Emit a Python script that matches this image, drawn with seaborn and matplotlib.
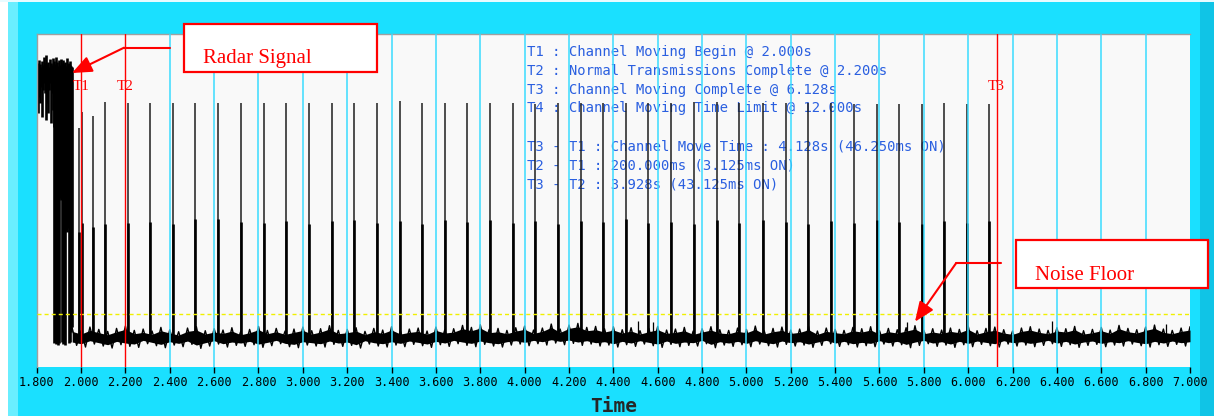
import numpy as np
import matplotlib
matplotlib.use("Agg")
import matplotlib.pyplot as plt
import seaborn as sns
from matplotlib.patches import Rectangle, FancyArrowPatch
from matplotlib.lines import Line2D

# ---------------- data ----------------
ticks = [1.8, 2.0, 2.2, 2.4, 2.6, 2.8, 3.0, 3.2, 3.4, 3.6, 3.8, 4.0, 4.2, 4.4,
         4.6, 4.8, 5.0, 5.2, 5.4, 5.6, 5.8, 6.0, 6.2, 6.4, 6.6, 6.8, 7.0]
tick_labels = ["%.3f" % t for t in ticks]

markers = ["T1", "T2", "T3"]
marker_t = [2.000, 2.200, 6.128]

threshold = 15.7      # yellow dashed level
noise_center = 8.6

# radar burst, sampled every 4 ms from 1.800 s
radar_t = np.round(1.800 + 0.004 * np.arange(41), 3)
radar_top = [90.5, 91.2, 90.1, 92.0, 90.8, 89.9, 91.6, 90.4, 92.8, 91.0,
             90.2, 93.4, 90.9, 91.5, 90.0, 92.3, 91.1, 90.6, 92.6, 90.3,
             91.8, 90.7, 93.0, 91.3, 90.1, 91.9, 90.5, 92.4, 91.0, 90.4,
             92.1, 90.8, 91.4, 90.2, 92.7, 90.9, 91.2, 90.5, 91.7, 90.3, 90.0]
radar_bot = [83.0, 76.0, 84.0, 81.0, 79.0, 84.0, 75.0, 83.0, 85.0, 82.0,
             74.0, 84.0, 79.0, 76.0, 83.0, 85.0, 73.0, 82.0, 77.0, 72.0,
             7.0, 7.5, 6.8, 7.2, 6.5, 7.0, 50.6, 50.0, 51.0, 7.3,
             6.9, 7.1, 6.6, 41.0, 40.5, 41.5, 7.0, 7.4, 11.0, 10.5, 12.0]

# transmission pulses
pulse_t = [1.992, 2.005, 2.053,
           2.108, 2.210, 2.312, 2.413, 2.515, 2.617, 2.721, 2.823, 2.924, 3.028,
           3.130, 3.231, 3.333, 3.438, 3.537, 3.641, 3.741, 3.844, 3.946, 4.047,
           4.151, 4.253, 4.353, 4.457, 4.557, 4.660, 4.763, 4.866, 4.966, 5.073,
           5.177, 5.276, 5.381, 5.484, 5.587, 5.688, 5.790, 5.891, 5.994, 6.095]
pulse_top = [71.6, 76.5, 75.3,
             79.3, 79.0, 79.0, 79.1, 79.0, 79.1, 79.0, 79.0, 79.1, 79.0,
             79.0, 79.0, 79.0, 79.6, 79.0, 79.2, 79.2, 79.2, 79.2, 78.9,
             79.0, 79.0, 79.0, 79.1, 79.2, 79.0, 79.4, 79.3, 79.0, 79.1,
             79.0, 79.2, 79.0, 78.8, 78.8, 78.9, 78.8, 79.2, 78.9, 78.8]
pulse_body = [40.5, 43.0, 42.0,
              42.7, 43.2, 43.4, 42.7, 44.4, 44.4, 43.5, 43.0, 43.8, 42.9,
              43.6, 44.0, 43.1, 43.7, 42.8, 43.9, 43.3, 44.1, 43.0, 43.6,
              42.9, 43.8, 43.4, 44.2, 43.1, 43.5, 42.8, 43.9, 43.2, 44.0,
              43.3, 42.9, 43.7, 43.1, 44.1, 43.4, 42.8, 43.6, 43.0, 43.8]

# noise floor envelope, sampled every 40 ms from 1.96 s
noise_t = np.round(1.96 + 0.04 * np.arange(127), 2)
noise_hi = [11.6, 10.8, 11.9, 11.2, 10.6, 11.5, 12.2, 10.9, 11.3, 10.7,
            11.8, 11.1, 10.5, 11.6, 12.0, 10.8, 11.4, 11.0, 11.7, 10.6,
            11.2, 12.1, 10.9, 11.5, 10.7, 11.3, 11.9, 10.8, 11.4, 12.3,
            10.9, 11.2, 11.7, 10.6, 11.5, 11.0, 12.0, 10.8, 11.3, 11.6,
            10.7, 11.9, 11.1, 11.4, 12.4, 11.8, 12.6, 11.2, 11.5, 10.9,
            11.7, 12.2, 11.0, 11.6, 12.8, 11.3, 12.5, 13.0, 11.8, 12.1,
            11.4, 12.0, 11.1, 11.7, 10.8, 11.5, 12.1, 11.0, 11.3, 11.8,
            10.7, 11.4, 12.0, 11.1, 10.9, 11.6, 11.2, 12.2, 10.8, 11.5,
            11.9, 11.0, 11.3, 12.1, 10.7, 11.6, 11.2, 10.9, 11.8, 11.4,
            12.0, 10.8, 11.5, 11.1, 11.7, 12.3, 10.9, 11.4, 11.0, 11.6,
            11.2, 12.2, 10.8, 11.5, 11.9, 11.1, 10.7, 11.6, 12.0, 11.3,
            10.9, 11.7, 11.4, 12.1, 10.8, 11.2, 11.8, 11.0, 12.4, 11.5,
            11.1, 11.9, 12.5, 11.3, 10.9, 11.6, 12.0]
noise_lo = [6.4, 5.9, 6.8, 6.2, 5.6, 6.6, 6.1, 5.8, 6.9, 6.3,
            5.7, 6.5, 6.0, 6.7, 5.5, 6.2, 6.8, 5.9, 6.4, 6.1,
            6.6, 5.8, 6.3, 6.9, 6.0, 5.7, 6.5, 6.2, 5.9, 6.7,
            6.1, 6.4, 5.6, 6.8, 6.2, 5.9, 6.5, 6.0, 6.7, 6.3,
            5.8, 6.6, 6.1, 6.9, 6.4, 6.0, 6.7, 6.2, 5.9, 6.5,
            6.8, 6.3, 6.9, 6.5, 7.1, 6.6, 7.0, 6.4, 6.8, 6.2,
            6.5, 5.9, 6.6, 6.1, 6.8, 6.3, 5.8, 6.7, 6.0, 6.4,
            6.2, 6.9, 5.7, 6.5, 6.1, 6.6, 6.0, 6.8, 6.3, 5.9,
            6.7, 6.2, 6.5, 5.8, 6.4, 6.9, 6.1, 6.6, 5.9, 6.3,
            6.0, 6.8, 6.2, 6.6, 5.7, 6.4, 6.9, 6.1, 6.5, 5.8,
            6.6, 6.0, 6.7, 6.3, 5.9, 6.8, 6.2, 6.5, 6.0, 6.4,
            6.9, 6.1, 6.6, 5.8, 6.4, 6.7, 6.0, 6.5, 6.2, 6.8,
            6.3, 5.9, 6.6, 6.1, 6.7, 6.2, 6.5]
noise_peak_t = [4.512, 4.580, 5.724, 6.376, 6.890]
noise_peak_v = [13.8, 13.3, 13.5, 13.7, 12.8]

info_lines = ["T1 : Channel Moving Begin @ 2.000s",
              "T2 : Normal Transmissions Complete @ 2.200s",
              "T3 : Channel Moving Complete @ 6.128s",
              "T4 : Channel Moving Time Limit @ 12.000s",
              "T3 - T1 : Channel Move Time : 4.128s (46.250ms ON)",
              "T2 - T1 : 200.000ms (3.125ms ON)",
              "T3 - T2 : 3.928s (43.125ms ON)"]
info_y = [94.5, 88.8, 83.1, 77.5, 66.0, 60.3, 54.6]

# ---------------- style ----------------
sns.set_theme(style="white")
plt.rcParams["font.family"] = ["DejaVu Sans Mono", "DejaVu Sans"]

W, H = 1214, 416
CYAN = "#1ae0ff"
fig = plt.figure(figsize=(W / 100, H / 100), dpi=100, facecolor=CYAN)

def fx(x):
    return x / W

def fy(y):
    return 1 - y / H

# frame decorations
fig.add_artist(Rectangle((0, 0), fx(8), 1, transform=fig.transFigure,
                         fc="white", ec="none", zorder=-2))
fig.add_artist(Rectangle((fx(8), 0), fx(10), 1, transform=fig.transFigure,
                         fc="#6aeeff", ec="none", zorder=-2))
fig.add_artist(Rectangle((fx(1200), 0), fx(14), 1, transform=fig.transFigure,
                         fc="#10c4e6", ec="none", zorder=-2))
fig.add_artist(Rectangle((0, fy(2)), 1, 2 / H, transform=fig.transFigure,
                         fc="#e8fbff", ec="none", zorder=-2))

ax = fig.add_axes([fx(36.7), fy(366.7), fx(1190 - 36.7), (366.7 - 33.5) / H])
ax.set_facecolor("#f9f9f9")
ax.set_xlim(1.8, 7.0)
ax.set_ylim(0, 100)

# blue info text (below data)
for s, yv in zip(info_lines, info_y):
    ax.text(4.012, yv, s, color="#2a5fe0", fontsize=10, ha="left", va="center",
            family="DejaVu Sans Mono", zorder=1)

# radar burst
ax.vlines(radar_t, radar_bot, radar_top, colors="black", lw=1.9, zorder=2)

# pulses
ax.vlines(pulse_t, noise_center, pulse_top, colors="#1e1e1e", lw=1.1, zorder=2)
ax.vlines(pulse_t, noise_center, pulse_body, colors="black", lw=1.9, zorder=2)

# noise floor
hi = np.array(noise_hi)
lo = np.array(noise_lo)
ax.fill_between(noise_t, lo + 1.0, hi - 1.0, color="black", lw=0, zorder=2)
zig_t = np.ravel(np.column_stack([noise_t, noise_t + 0.02]))
zig_v = np.ravel(np.column_stack([hi, lo]))
sns.lineplot(x=zig_t, y=zig_v, sort=False, estimator=None, color="black",
             lw=1.0, ax=ax, zorder=2)
ax.vlines(noise_peak_t, noise_center, noise_peak_v, colors="black", lw=0.9, zorder=2)

# cyan grid (not where a marker line sits)
for t in ticks[1:-1]:
    if min(abs(t - m) for m in marker_t) > 1e-6:
        ax.axvline(t, color="#3adcff", lw=1.1, zorder=3)

# threshold
ax.axhline(threshold, color="#f0f000", lw=1.0, ls=(0, (2.9, 2.2)), zorder=4)

# markers
for name, t in zip(markers, marker_t):
    ax.axvline(t, color="red", lw=1.0, zorder=5)
    ax.text(t, 84.2, name, color="red", fontsize=11, family="Liberation Serif",
            ha="center", va="center", zorder=6)

# axes cosmetics
for side in ["right", "bottom"]:
    ax.spines[side].set_visible(False)
for side in ["left", "top"]:
    ax.spines[side].set_color("#a0a0a0")
    ax.spines[side].set_linewidth(1.0)
ax.set_yticks([])
ax.set_xticks(ticks)
ax.set_xticklabels(tick_labels)
ax.tick_params(axis="x", bottom=True, direction="out", length=4, width=1,
               color="black", labelcolor="black", labelsize=8.5, pad=3)
ax.grid(False)
ax.set_xlabel("Time", fontsize=14, fontweight="bold", family="DejaVu Sans Mono")
ax.xaxis.set_label_coords(0.5, (366.7 - 407) / 333.2)
ax.xaxis.label.set_va("center")
ax.set_ylabel("")

# ---------------- callouts ----------------
def callout(box, text_xy, text, line_pts, tip):
    x0, y0, x1, y1 = box
    fig.add_artist(Rectangle((fx(x0), fy(y1)), fx(x1 - x0), (y1 - y0) / H,
                             transform=fig.transFigure, fc="white", ec="red",
                             lw=1.6, zorder=10))
    fig.text(fx(text_xy[0]), fy(text_xy[1]), text, color="red", fontsize=15,
             family="Liberation Serif", ha="left", va="baseline", zorder=11)
    xs = [fx(p[0]) for p in line_pts]
    ys = [fy(p[1]) for p in line_pts]
    fig.add_artist(Line2D(xs, ys, transform=fig.transFigure, color="red",
                          lw=1.5, zorder=10))
    fig.add_artist(FancyArrowPatch((xs[-1], ys[-1]), (fx(tip[0]), fy(tip[1])),
                                   transform=fig.transFigure,
                                   arrowstyle="-|>,head_length=1.2,head_width=0.5",
                                   mutation_scale=10, color="red", lw=1.5,
                                   shrinkA=0, shrinkB=0, zorder=10))

callout((184, 24, 377, 72), (203, 63), "Radar Signal",
        [(170, 47.7), (124, 47.7)], (72, 73))
callout((1016, 240, 1208, 288), (1035, 280), "Noise Floor",
        [(1001, 263.3), (956, 263.3)], (915, 321.7))

fig.savefig("out.png", dpi=100, facecolor=fig.get_facecolor())
